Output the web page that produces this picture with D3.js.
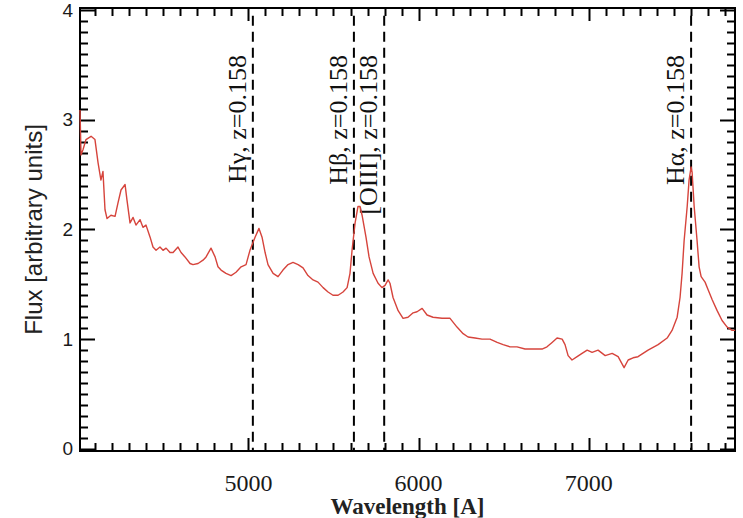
<!DOCTYPE html>
<head>
  <meta charset="utf-8">
  <script src="https://d3js.org/d3.v7.min.js"></script>
  <style>
    body { margin:0; background:#fff; }
    .spec { fill:none; stroke:#d6443c; stroke-width:1.4px; stroke-linejoin:round; }
    .mark { stroke:#000; stroke-width:2px; stroke-dasharray:10,6; }
    .tk { stroke:#000; stroke-width:2px; }
  </style>
</head>
<body>
  <script>
    // spectrum
    var wave = [4010,4016,4028,4045,4075,4098,4116,4133,4145,4157,4169,4192,4216,4233,4251,4275,4286,4304,4322,4339,
      4363,4380,4398,4422,4439,4457,4480,4498,4516,4539,4557,4586,4604,4627,4657,4674,4704,4733,4751,4780,
      4804,4821,4839,4868,4898,4927,4957,4986,5009,5039,5062,5080,5098,5115,5145,5174,5203,5233,5262,5292,
      5321,5350,5380,5409,5439,5468,5497,5527,5556,5580,5597,5609,5627,5644,5656,5668,5691,5709,5733,5762,
      5785,5803,5821,5832,5850,5880,5909,5938,5968,5991,6021,6050,6085,6138,6185,6226,6262,6291,6332,6373,
      6420,6462,6497,6538,6579,6626,6673,6726,6755,6785,6814,6844,6861,6879,6902,6932,6961,6991,7020,7055,
      7097,7138,7173,7208,7232,7261,7290,7349,7408,7461,7490,7520,7537,7549,7561,7579,7590,7602,7608,7620,
      7637,7649,7661,7684,7702,7726,7755,7784,7814,7843,7861];
    var flux = [3.09,2.68,2.73,2.82,2.85,2.82,2.61,2.45,2.53,2.18,2.10,2.13,2.12,2.24,2.36,2.41,2.27,2.06,2.11,2.04,
      2.09,2.02,2.04,1.93,1.84,1.81,1.84,1.81,1.83,1.79,1.79,1.84,1.79,1.75,1.69,1.68,1.69,1.72,1.75,1.83,
      1.75,1.66,1.63,1.60,1.58,1.61,1.66,1.68,1.81,1.93,2.01,1.93,1.79,1.68,1.60,1.57,1.63,1.68,1.70,1.68,
      1.65,1.58,1.54,1.52,1.47,1.43,1.40,1.40,1.43,1.47,1.60,1.81,2.06,2.21,2.21,2.13,1.93,1.75,1.60,1.51,
      1.47,1.49,1.54,1.51,1.38,1.26,1.19,1.20,1.24,1.25,1.28,1.22,1.20,1.19,1.19,1.11,1.05,1.02,1.01,1.00,
      1.00,0.97,0.95,0.93,0.93,0.91,0.91,0.91,0.93,0.97,1.01,1.00,0.95,0.85,0.81,0.84,0.87,0.90,0.88,0.90,
      0.85,0.87,0.84,0.74,0.81,0.83,0.84,0.90,0.95,1.01,1.08,1.20,1.38,1.60,1.90,2.21,2.45,2.57,2.52,2.21,
      1.90,1.66,1.57,1.52,1.45,1.36,1.26,1.17,1.11,1.08,1.08];

    var lineWave = [5026, 5620, 5798, 7602];
    var lineNames = ["H\u03b3, z=0.158", "H\u03b2, z=0.158", "[OIII], z=0.158", "H\u03b1, z=0.158"];

    var xMajor = [5000, 6000, 7000];
    var yMajor = [0, 1, 2, 3, 4];

    var W = 743, H = 518;
    var m = {left:80, top:8, right:8, bottom:67};

    var svg = d3.select("body").append("svg")
      .attr("width", W).attr("height", H);

    var x = d3.scaleLinear().domain([4010, 7860]).range([m.left, W - m.right]);
    var y = d3.scaleLinear().domain([-0.02, 4.02]).range([H - m.bottom, m.top]);

    var xTicks = d3.range(4100, 7900, 100).filter(function(v){ return v < 7860; });
    var yTicks = d3.range(0, 41).map(function(i){ return i / 10; });

    var x0 = m.left, x1 = W - m.right, y0 = H - m.bottom, y1 = m.top;

    // x ticks, bottom and top, pointing inward
    var tg = svg.append("g");
    xTicks.forEach(function(v) {
      var len = (v % 1000 == 0) ? 13 : 8;
      var px = Math.round(x(v)) + 0.5;
      tg.append("line").attr("class", "tk").attr("x1", px).attr("x2", px).attr("y1", y0).attr("y2", y0 - len);
      tg.append("line").attr("class", "tk").attr("x1", px).attr("x2", px).attr("y1", y1).attr("y2", y1 + len);
    });
    yTicks.forEach(function(v, i) {
      var len = (i % 10 == 0) ? 15 : 8;
      var py = Math.round(y(v)) + 0.5;
      tg.append("line").attr("class", "tk").attr("x1", x0).attr("x2", x0 + len).attr("y1", py).attr("y2", py);
      tg.append("line").attr("class", "tk").attr("x1", x1).attr("x2", x1 - len).attr("y1", py).attr("y2", py);
    });

    // tick labels
    svg.append("g").selectAll("text").data(xMajor).enter().append("text")
      .attr("x", function(d){ return x(d); }).attr("y", 491)
      .attr("text-anchor", "middle")
      .style("font-family", "Liberation Serif").style("font-size", "24px").attr("fill", "#1a1a1a")
      .text(function(d){ return d; });

    svg.append("g").selectAll("text").data(yMajor).enter().append("text")
      .attr("x", x0 - 7).attr("y", function(d){ return y(d); })
      .attr("dy", "0.35em")
      .attr("text-anchor", "end")
      .style("font-family", "Liberation Sans").style("font-size", "19px").attr("fill", "#1a1a1a")
      .text(function(d){ return d; });

    // frame
    svg.append("rect")
      .attr("x", x0).attr("y", y1)
      .attr("width", x1 - x0).attr("height", y0 - y1)
      .attr("fill", "none").attr("stroke", "#000").attr("stroke-width", 2);

    // emission line markers
    svg.selectAll("line.mark").data(lineWave).enter().append("line")
      .attr("class", "mark")
      .attr("x1", function(d){ return x(d); }).attr("x2", function(d){ return x(d); })
      .attr("y1", y(3.95)).attr("y2", y0);

    svg.selectAll("text.lab").data(lineWave).enter().append("text")
      .attr("class", "lab")
      .attr("transform", function(d){ return "translate(" + (x(d) - 7) + ",55) rotate(-90)"; })
      .attr("text-anchor", "end")
      .style("font-family", "Liberation Serif").style("font-size", "26px").attr("fill", "#111")
      .text(function(d, i){ return lineNames[i]; });

    // spectrum
    var pts = wave.map(function(w, i){ return [w, flux[i]]; });
    var line = d3.line().x(function(d){ return x(d[0]); }).y(function(d){ return y(d[1]); });
    svg.append("path").datum(pts).attr("class", "spec").attr("d", line);

    // axis titles
    svg.append("text")
      .attr("x", (x0 + x1) / 2).attr("y", 514)
      .attr("text-anchor", "middle")
      .style("font-family", "Liberation Serif").style("font-size", "23px").style("font-weight", "bold")
      .attr("fill", "#222")
      .text("Wavelength [A]");

    svg.append("text")
      .attr("transform", "translate(42," + ((y0 + y1) / 2) + ") rotate(-90)")
      .attr("text-anchor", "middle")
      .style("font-family", "Liberation Sans").style("font-size", "24px")
      .attr("fill", "#222")
      .text("Flux [arbitrary units]");
  </script>
</body>
